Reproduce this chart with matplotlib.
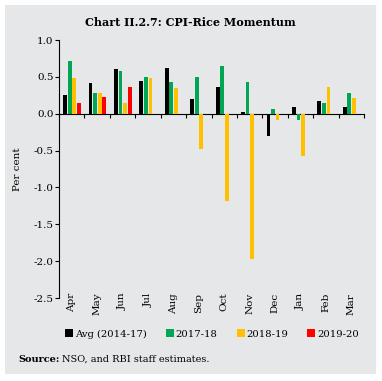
import numpy as np
import matplotlib
matplotlib.use("Agg")
import matplotlib.pyplot as plt
from matplotlib.patches import Rectangle

months = ['Apr', 'May', 'Jun', 'Jul', 'Aug', 'Sep', 'Oct', 'Nov', 'Dec', 'Jan', 'Feb', 'Mar']
avg_2014_17 = [0.26, 0.41, 0.60, 0.44, 0.62, 0.20, 0.36, 0.03, -0.30, 0.09, 0.17, 0.09]
fy_2017_18 = [0.72, 0.28, 0.58, 0.50, 0.43, 0.50, 0.65, 0.43, 0.06, -0.08, 0.14, 0.28]
fy_2018_19 = [0.49, 0.28, 0.14, 0.49, 0.35, -0.48, -1.18, -1.97, -0.08, -0.57, 0.36, 0.21]
fy_2019_20 = [0.14, 0.22, 0.36, np.nan, np.nan, np.nan, np.nan, np.nan, np.nan, np.nan, np.nan, np.nan]

series = [avg_2014_17, fy_2017_18, fy_2018_19, fy_2019_20]
labels = ['Avg (2014-17)', '2017-18', '2018-19', '2019-20']
colors = ['#000000', '#00a651', '#ffc000', '#ff0000']

plt.rcParams['font.family'] = 'DejaVu Serif'
bg = '#e6e7e8'

fig = plt.figure(figsize=(3.82, 3.81), dpi=100)
fig.patch.set_facecolor('white')
panel = Rectangle((5 / 382, 1 - 374 / 381), 371 / 382, 369 / 381,
                  transform=fig.transFigure, facecolor=bg, edgecolor='none', zorder=-10)
fig.add_artist(panel)

ax = fig.add_axes([59 / 382, 1 - 298 / 381, 305 / 382, 258 / 381])
ax.patch.set_alpha(0)

x = np.arange(len(months))
offsets = [-0.26, -0.08, 0.10, 0.28]
for vals, off, c, lab in zip(series, offsets, colors, labels):
    ax.bar(x + off, vals, width=0.15, color=c, label=lab, zorder=3)

ax.set_xlim(-0.5, 11.5)
ax.set_ylim(-2.5, 1.0)
ax.set_yticks(np.arange(-2.5, 1.01, 0.5))
ax.set_yticklabels([f'{v:.1f}' for v in np.arange(-2.5, 1.01, 0.5)], fontsize=7.5)
ax.tick_params(axis='y', length=3, width=0.8, pad=1)

ax.spines['top'].set_visible(False)
ax.spines['right'].set_visible(False)
ax.spines['bottom'].set_position(('data', 0))
ax.set_xticks(np.arange(-0.5, 11.6, 1))
ax.set_xticklabels([])
ax.tick_params(axis='x', length=3, width=0.8, direction='out')

# month names sit at the bottom of the plot, not on the zero line
for i, m in enumerate(months):
    ax.text(i, 0.02, m, transform=ax.get_xaxis_transform(), rotation=90,
            ha='center', va='top', fontsize=7.5)

ax.set_ylabel('Per cent', fontsize=7.5, labelpad=8)

fig.text(190 / 382, 1 - 22 / 381, 'Chart II.2.7: CPI-Rice Momentum', ha='center', va='center',
         fontsize=8, fontweight='bold')

handles, labs = ax.get_legend_handles_labels()
fig.legend(handles, labs, loc='center', bbox_to_anchor=(212 / 382, 1 - 334 / 381), ncol=4,
           frameon=False, fontsize=7.2, handlelength=0.8, handleheight=0.8, handletextpad=0.2,
           columnspacing=1.9)

fig.text(18 / 382, 1 - 359 / 381, 'Source:', ha='left', va='center', fontsize=7, fontweight='bold')
fig.text(62 / 382, 1 - 359 / 381, 'NSO, and RBI staff estimates.', ha='left', va='center', fontsize=7)

fig.savefig('out.png', dpi=100, facecolor=fig.get_facecolor())
